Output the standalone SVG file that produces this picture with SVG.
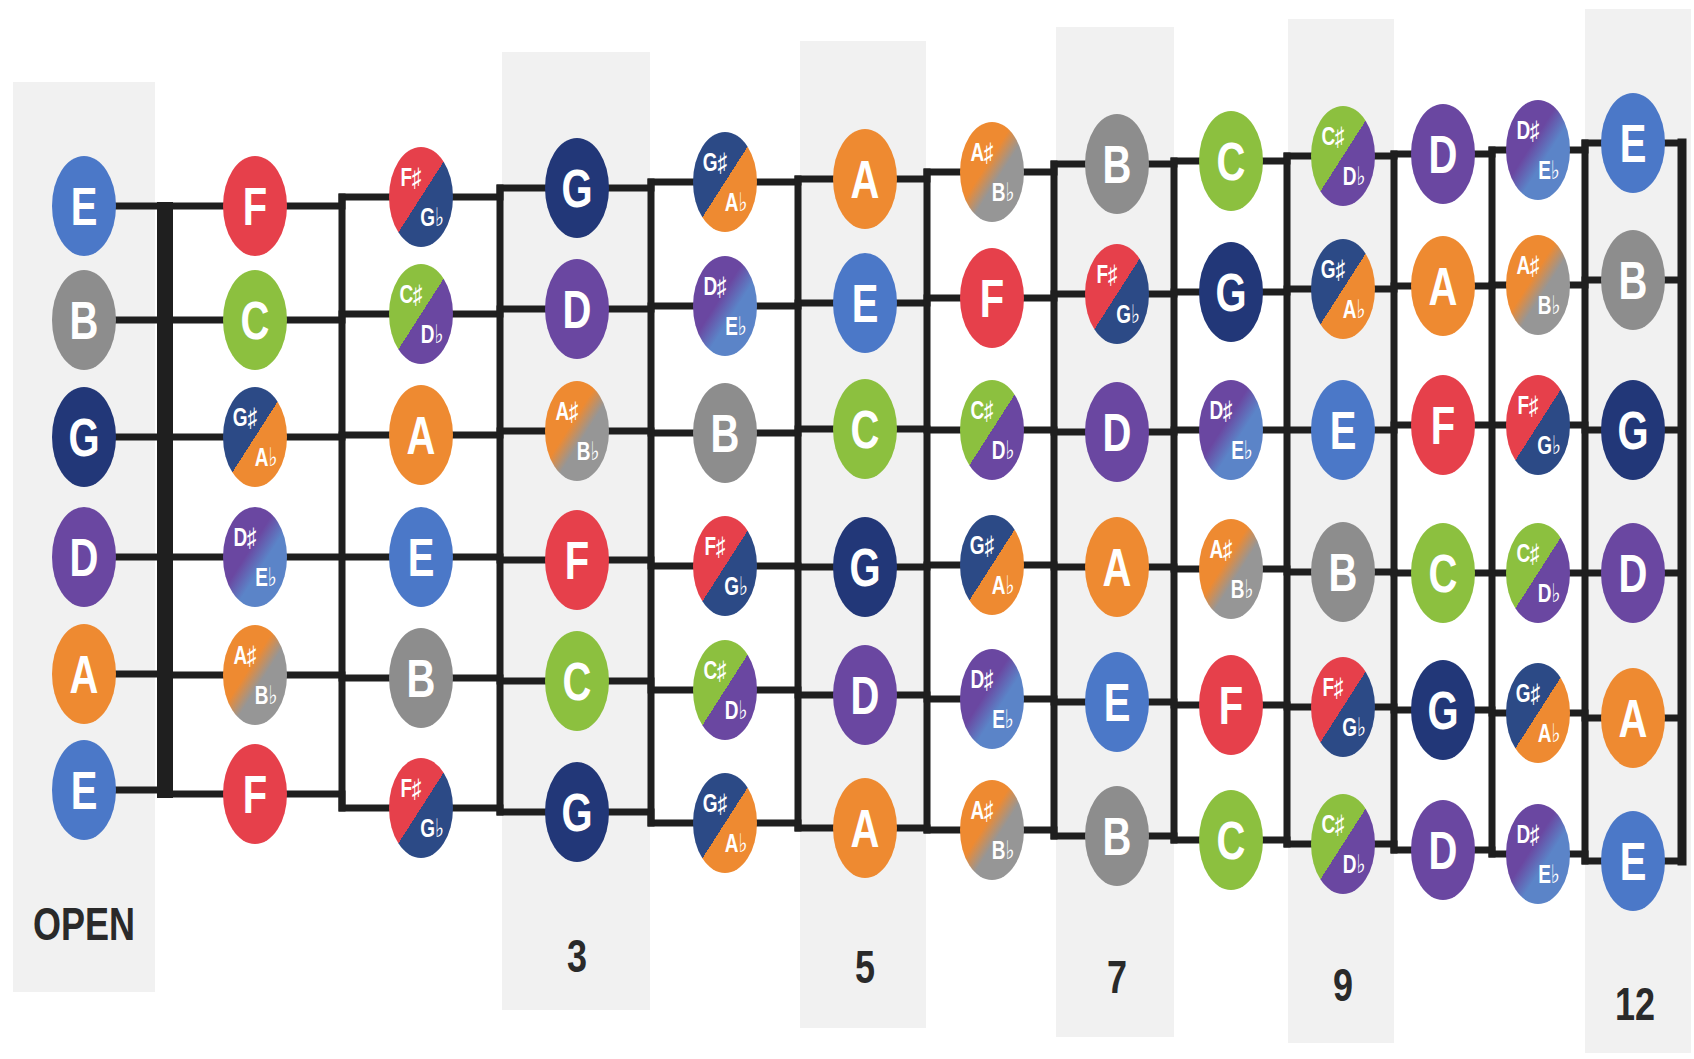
<svg xmlns="http://www.w3.org/2000/svg" width="1694" height="1059" viewBox="0 0 1694 1059">
<defs>
<style>
.band{fill:#f1f1f1}
.str{fill:none;stroke:#1f1f1f;stroke-width:7;stroke-linejoin:miter}
.fret{stroke:#1f1f1f;stroke-width:7;stroke-linecap:square}
.nut{stroke:#1f1f1f;stroke-width:16;stroke-linecap:butt}
.lbl{font-family:"Liberation Sans",Arial,sans-serif;font-weight:bold;font-size:36px;fill:#2a2a2a;text-anchor:middle}
.nt{font-family:"Liberation Sans",Arial,sans-serif;font-weight:bold;font-size:40px;fill:#ffffff;text-anchor:middle}
.st{font-family:"Liberation Sans","DejaVu Sans",sans-serif;font-weight:bold;font-size:19px;fill:#ffffff;text-anchor:middle}
.cE{fill:#4b78c8}.cF{fill:#e6404b}.cG{fill:#223778}.cA{fill:#ee8a31}.cB{fill:#8d8d8d}.cC{fill:#8cc03f}.cD{fill:#6a47a1}
.gFs{fill:url(#gFs)}.gGs{fill:url(#gGs)}.gAs{fill:url(#gAs)}.gCs{fill:url(#gCs)}.gDs{fill:url(#gDs)}
</style>
<linearGradient id="gFs" x1="0" y1="0" x2="1" y2="1"><stop offset="0.5" stop-color="#e6404b"/><stop offset="0.5" stop-color="#2c4a86"/></linearGradient>
<linearGradient id="gGs" x1="0" y1="0" x2="1" y2="1"><stop offset="0.5" stop-color="#2c4a86"/><stop offset="0.5" stop-color="#ee8a31"/></linearGradient>
<linearGradient id="gAs" x1="0" y1="0" x2="1" y2="1"><stop offset="0.42" stop-color="#ee8a31"/><stop offset="0.58" stop-color="#969696"/></linearGradient>
<linearGradient id="gCs" x1="0" y1="0" x2="1" y2="1"><stop offset="0.5" stop-color="#8cc03f"/><stop offset="0.5" stop-color="#6a47a1"/></linearGradient>
<linearGradient id="gDs" x1="0" y1="0" x2="1" y2="1"><stop offset="0.42" stop-color="#6a47a1"/><stop offset="0.6" stop-color="#5b84c8"/></linearGradient>
</defs>
<rect x="0" y="0" width="1694" height="1059" fill="#ffffff"/>
<g id="bands">
<rect class="band" x="13" y="82" width="142" height="910"/>
<rect class="band" x="502" y="52" width="148" height="958"/>
<rect class="band" x="800" y="41" width="126" height="987"/>
<rect class="band" x="1056" y="27" width="118" height="1010"/>
<rect class="band" x="1288" y="19" width="106" height="1024"/>
<rect class="band" x="1585" y="9" width="106" height="1044"/>
</g>
<g id="labels">
<text class="lbl" transform="translate(84,940) scale(1,1.3)">OPEN</text>
<text class="lbl" transform="translate(577,972) scale(1,1.3)">3</text>
<text class="lbl" transform="translate(865,983) scale(1,1.3)">5</text>
<text class="lbl" transform="translate(1117,993) scale(1,1.3)">7</text>
<text class="lbl" transform="translate(1343,1001) scale(1,1.3)">9</text>
<text class="lbl" transform="translate(1635,1020) scale(1,1.3)">12</text>
</g>
<g id="connectors">
<path class="str" d="M84,206 H165 V206 H342 V197 H500 V188 H651 V182 H798 V179 H927 V172 H1054 V164 H1174 V161 H1287 V156 H1394 V154 H1492 V150 H1585 V143 H1681"/>
<path class="str" d="M84,320 H165 V320 H342 V314 H500 V309 H651 V306 H798 V303 H927 V298 H1054 V294 H1174 V292 H1287 V289 H1394 V286 H1492 V285 H1585 V280 H1681"/>
<path class="str" d="M84,437 H165 V437 H342 V435 H500 V431 H651 V433 H798 V429 H927 V430 H1054 V432 H1174 V430 H1287 V430 H1394 V425 H1492 V425 H1585 V430 H1681"/>
<path class="str" d="M84,557 H165 V557 H342 V557 H500 V560 H651 V566 H798 V567 H927 V565 H1054 V567 H1174 V569 H1287 V572 H1394 V573 H1492 V573 H1585 V573 H1681"/>
<path class="str" d="M84,674 H165 V675 H342 V678 H500 V681 H651 V690 H798 V695 H927 V699 H1054 V702 H1174 V705 H1287 V707 H1394 V710 H1492 V713 H1585 V718 H1681"/>
<path class="str" d="M84,790 H165 V794 H342 V808 H500 V812 H651 V823 H798 V828 H927 V830 H1054 V836 H1174 V840 H1287 V844 H1394 V850 H1492 V854 H1585 V861 H1681"/>
<line class="nut" x1="165" y1="202" x2="165" y2="798"/>
<line class="fret" x1="342" y1="197" x2="342" y2="808"/>
<line class="fret" x1="500" y1="188" x2="500" y2="812"/>
<line class="fret" x1="651" y1="182" x2="651" y2="823"/>
<line class="fret" x1="798" y1="179" x2="798" y2="828"/>
<line class="fret" x1="927" y1="172" x2="927" y2="830"/>
<line class="fret" x1="1054" y1="164" x2="1054" y2="836"/>
<line class="fret" x1="1174" y1="161" x2="1174" y2="840"/>
<line class="fret" x1="1287" y1="156" x2="1287" y2="844"/>
<line class="fret" x1="1394" y1="154" x2="1394" y2="850"/>
<line class="fret" x1="1492" y1="150" x2="1492" y2="854"/>
<line class="fret" x1="1585" y1="143" x2="1585" y2="861"/>
<line class="fret" x1="1682" y1="143" x2="1682" y2="861" style="stroke-width:9"/>
</g>
<g id="notes">
<g id="c0s0"><ellipse class="cE" cx="84" cy="206" rx="32" ry="50"/><text class="nt" transform="translate(84,206) scale(1,1.35)" y="14">E</text></g>
<g id="c0s1"><ellipse class="cB" cx="84" cy="320" rx="32" ry="50"/><text class="nt" transform="translate(84,320) scale(1,1.35)" y="14">B</text></g>
<g id="c0s2"><ellipse class="cG" cx="84" cy="437" rx="32" ry="50"/><text class="nt" transform="translate(84,437) scale(1,1.35)" y="14">G</text></g>
<g id="c0s3"><ellipse class="cD" cx="84" cy="557" rx="32" ry="50"/><text class="nt" transform="translate(84,557) scale(1,1.35)" y="14">D</text></g>
<g id="c0s4"><ellipse class="cA" cx="84" cy="674" rx="32" ry="50"/><text class="nt" transform="translate(84,674) scale(1,1.35)" y="14">A</text></g>
<g id="c0s5"><ellipse class="cE" cx="84" cy="790" rx="32" ry="50"/><text class="nt" transform="translate(84,790) scale(1,1.35)" y="14">E</text></g>

<g id="c1s0"><ellipse class="cF" cx="255" cy="206" rx="32" ry="50"/><text class="nt" transform="translate(255,206) scale(1,1.35)" y="14">F</text></g>
<g id="c1s1"><ellipse class="cC" cx="255" cy="320" rx="32" ry="50"/><text class="nt" transform="translate(255,320) scale(1,1.35)" y="14">C</text></g>
<g id="c1s2"><ellipse class="gGs" cx="255" cy="437" rx="32" ry="50"/><text class="st" transform="translate(245,417) scale(1,1.35)" y="7">G♯</text><text class="st" transform="translate(266,457) scale(1,1.35)" y="7">A♭</text></g>
<g id="c1s3"><ellipse class="gDs" cx="255" cy="557" rx="32" ry="50"/><text class="st" transform="translate(245,537) scale(1,1.35)" y="7">D♯</text><text class="st" transform="translate(266,577) scale(1,1.35)" y="7">E♭</text></g>
<g id="c1s4"><ellipse class="gAs" cx="255" cy="675" rx="32" ry="50"/><text class="st" transform="translate(245,655) scale(1,1.35)" y="7">A♯</text><text class="st" transform="translate(266,695) scale(1,1.35)" y="7">B♭</text></g>
<g id="c1s5"><ellipse class="cF" cx="255" cy="794" rx="32" ry="50"/><text class="nt" transform="translate(255,794) scale(1,1.35)" y="14">F</text></g>

<g id="c2s0"><ellipse class="gFs" cx="421" cy="197" rx="32" ry="50"/><text class="st" transform="translate(411,177) scale(1,1.35)" y="7">F♯</text><text class="st" transform="translate(432,217) scale(1,1.35)" y="7">G♭</text></g>
<g id="c2s1"><ellipse class="gCs" cx="421" cy="314" rx="32" ry="50"/><text class="st" transform="translate(411,294) scale(1,1.35)" y="7">C♯</text><text class="st" transform="translate(432,334) scale(1,1.35)" y="7">D♭</text></g>
<g id="c2s2"><ellipse class="cA" cx="421" cy="435" rx="32" ry="50"/><text class="nt" transform="translate(421,435) scale(1,1.35)" y="14">A</text></g>
<g id="c2s3"><ellipse class="cE" cx="421" cy="557" rx="32" ry="50"/><text class="nt" transform="translate(421,557) scale(1,1.35)" y="14">E</text></g>
<g id="c2s4"><ellipse class="cB" cx="421" cy="678" rx="32" ry="50"/><text class="nt" transform="translate(421,678) scale(1,1.35)" y="14">B</text></g>
<g id="c2s5"><ellipse class="gFs" cx="421" cy="808" rx="32" ry="50"/><text class="st" transform="translate(411,788) scale(1,1.35)" y="7">F♯</text><text class="st" transform="translate(432,828) scale(1,1.35)" y="7">G♭</text></g>

<g id="c3s0"><ellipse class="cG" cx="577" cy="188" rx="32" ry="50"/><text class="nt" transform="translate(577,188) scale(1,1.35)" y="14">G</text></g>
<g id="c3s1"><ellipse class="cD" cx="577" cy="309" rx="32" ry="50"/><text class="nt" transform="translate(577,309) scale(1,1.35)" y="14">D</text></g>
<g id="c3s2"><ellipse class="gAs" cx="577" cy="431" rx="32" ry="50"/><text class="st" transform="translate(567,411) scale(1,1.35)" y="7">A♯</text><text class="st" transform="translate(588,451) scale(1,1.35)" y="7">B♭</text></g>
<g id="c3s3"><ellipse class="cF" cx="577" cy="560" rx="32" ry="50"/><text class="nt" transform="translate(577,560) scale(1,1.35)" y="14">F</text></g>
<g id="c3s4"><ellipse class="cC" cx="577" cy="681" rx="32" ry="50"/><text class="nt" transform="translate(577,681) scale(1,1.35)" y="14">C</text></g>
<g id="c3s5"><ellipse class="cG" cx="577" cy="812" rx="32" ry="50"/><text class="nt" transform="translate(577,812) scale(1,1.35)" y="14">G</text></g>

<g id="c4s0"><ellipse class="gGs" cx="725" cy="182" rx="32" ry="50"/><text class="st" transform="translate(715,162) scale(1,1.35)" y="7">G♯</text><text class="st" transform="translate(736,202) scale(1,1.35)" y="7">A♭</text></g>
<g id="c4s1"><ellipse class="gDs" cx="725" cy="306" rx="32" ry="50"/><text class="st" transform="translate(715,286) scale(1,1.35)" y="7">D♯</text><text class="st" transform="translate(736,326) scale(1,1.35)" y="7">E♭</text></g>
<g id="c4s2"><ellipse class="cB" cx="725" cy="433" rx="32" ry="50"/><text class="nt" transform="translate(725,433) scale(1,1.35)" y="14">B</text></g>
<g id="c4s3"><ellipse class="gFs" cx="725" cy="566" rx="32" ry="50"/><text class="st" transform="translate(715,546) scale(1,1.35)" y="7">F♯</text><text class="st" transform="translate(736,586) scale(1,1.35)" y="7">G♭</text></g>
<g id="c4s4"><ellipse class="gCs" cx="725" cy="690" rx="32" ry="50"/><text class="st" transform="translate(715,670) scale(1,1.35)" y="7">C♯</text><text class="st" transform="translate(736,710) scale(1,1.35)" y="7">D♭</text></g>
<g id="c4s5"><ellipse class="gGs" cx="725" cy="823" rx="32" ry="50"/><text class="st" transform="translate(715,803) scale(1,1.35)" y="7">G♯</text><text class="st" transform="translate(736,843) scale(1,1.35)" y="7">A♭</text></g>

<g id="c5s0"><ellipse class="cA" cx="865" cy="179" rx="32" ry="50"/><text class="nt" transform="translate(865,179) scale(1,1.35)" y="14">A</text></g>
<g id="c5s1"><ellipse class="cE" cx="865" cy="303" rx="32" ry="50"/><text class="nt" transform="translate(865,303) scale(1,1.35)" y="14">E</text></g>
<g id="c5s2"><ellipse class="cC" cx="865" cy="429" rx="32" ry="50"/><text class="nt" transform="translate(865,429) scale(1,1.35)" y="14">C</text></g>
<g id="c5s3"><ellipse class="cG" cx="865" cy="567" rx="32" ry="50"/><text class="nt" transform="translate(865,567) scale(1,1.35)" y="14">G</text></g>
<g id="c5s4"><ellipse class="cD" cx="865" cy="695" rx="32" ry="50"/><text class="nt" transform="translate(865,695) scale(1,1.35)" y="14">D</text></g>
<g id="c5s5"><ellipse class="cA" cx="865" cy="828" rx="32" ry="50"/><text class="nt" transform="translate(865,828) scale(1,1.35)" y="14">A</text></g>

<g id="c6s0"><ellipse class="gAs" cx="992" cy="172" rx="32" ry="50"/><text class="st" transform="translate(982,152) scale(1,1.35)" y="7">A♯</text><text class="st" transform="translate(1003,192) scale(1,1.35)" y="7">B♭</text></g>
<g id="c6s1"><ellipse class="cF" cx="992" cy="298" rx="32" ry="50"/><text class="nt" transform="translate(992,298) scale(1,1.35)" y="14">F</text></g>
<g id="c6s2"><ellipse class="gCs" cx="992" cy="430" rx="32" ry="50"/><text class="st" transform="translate(982,410) scale(1,1.35)" y="7">C♯</text><text class="st" transform="translate(1003,450) scale(1,1.35)" y="7">D♭</text></g>
<g id="c6s3"><ellipse class="gGs" cx="992" cy="565" rx="32" ry="50"/><text class="st" transform="translate(982,545) scale(1,1.35)" y="7">G♯</text><text class="st" transform="translate(1003,585) scale(1,1.35)" y="7">A♭</text></g>
<g id="c6s4"><ellipse class="gDs" cx="992" cy="699" rx="32" ry="50"/><text class="st" transform="translate(982,679) scale(1,1.35)" y="7">D♯</text><text class="st" transform="translate(1003,719) scale(1,1.35)" y="7">E♭</text></g>
<g id="c6s5"><ellipse class="gAs" cx="992" cy="830" rx="32" ry="50"/><text class="st" transform="translate(982,810) scale(1,1.35)" y="7">A♯</text><text class="st" transform="translate(1003,850) scale(1,1.35)" y="7">B♭</text></g>

<g id="c7s0"><ellipse class="cB" cx="1117" cy="164" rx="32" ry="50"/><text class="nt" transform="translate(1117,164) scale(1,1.35)" y="14">B</text></g>
<g id="c7s1"><ellipse class="gFs" cx="1117" cy="294" rx="32" ry="50"/><text class="st" transform="translate(1107,274) scale(1,1.35)" y="7">F♯</text><text class="st" transform="translate(1128,314) scale(1,1.35)" y="7">G♭</text></g>
<g id="c7s2"><ellipse class="cD" cx="1117" cy="432" rx="32" ry="50"/><text class="nt" transform="translate(1117,432) scale(1,1.35)" y="14">D</text></g>
<g id="c7s3"><ellipse class="cA" cx="1117" cy="567" rx="32" ry="50"/><text class="nt" transform="translate(1117,567) scale(1,1.35)" y="14">A</text></g>
<g id="c7s4"><ellipse class="cE" cx="1117" cy="702" rx="32" ry="50"/><text class="nt" transform="translate(1117,702) scale(1,1.35)" y="14">E</text></g>
<g id="c7s5"><ellipse class="cB" cx="1117" cy="836" rx="32" ry="50"/><text class="nt" transform="translate(1117,836) scale(1,1.35)" y="14">B</text></g>

<g id="c8s0"><ellipse class="cC" cx="1231" cy="161" rx="32" ry="50"/><text class="nt" transform="translate(1231,161) scale(1,1.35)" y="14">C</text></g>
<g id="c8s1"><ellipse class="cG" cx="1231" cy="292" rx="32" ry="50"/><text class="nt" transform="translate(1231,292) scale(1,1.35)" y="14">G</text></g>
<g id="c8s2"><ellipse class="gDs" cx="1231" cy="430" rx="32" ry="50"/><text class="st" transform="translate(1221,410) scale(1,1.35)" y="7">D♯</text><text class="st" transform="translate(1242,450) scale(1,1.35)" y="7">E♭</text></g>
<g id="c8s3"><ellipse class="gAs" cx="1231" cy="569" rx="32" ry="50"/><text class="st" transform="translate(1221,549) scale(1,1.35)" y="7">A♯</text><text class="st" transform="translate(1242,589) scale(1,1.35)" y="7">B♭</text></g>
<g id="c8s4"><ellipse class="cF" cx="1231" cy="705" rx="32" ry="50"/><text class="nt" transform="translate(1231,705) scale(1,1.35)" y="14">F</text></g>
<g id="c8s5"><ellipse class="cC" cx="1231" cy="840" rx="32" ry="50"/><text class="nt" transform="translate(1231,840) scale(1,1.35)" y="14">C</text></g>

<g id="c9s0"><ellipse class="gCs" cx="1343" cy="156" rx="32" ry="50"/><text class="st" transform="translate(1333,136) scale(1,1.35)" y="7">C♯</text><text class="st" transform="translate(1354,176) scale(1,1.35)" y="7">D♭</text></g>
<g id="c9s1"><ellipse class="gGs" cx="1343" cy="289" rx="32" ry="50"/><text class="st" transform="translate(1333,269) scale(1,1.35)" y="7">G♯</text><text class="st" transform="translate(1354,309) scale(1,1.35)" y="7">A♭</text></g>
<g id="c9s2"><ellipse class="cE" cx="1343" cy="430" rx="32" ry="50"/><text class="nt" transform="translate(1343,430) scale(1,1.35)" y="14">E</text></g>
<g id="c9s3"><ellipse class="cB" cx="1343" cy="572" rx="32" ry="50"/><text class="nt" transform="translate(1343,572) scale(1,1.35)" y="14">B</text></g>
<g id="c9s4"><ellipse class="gFs" cx="1343" cy="707" rx="32" ry="50"/><text class="st" transform="translate(1333,687) scale(1,1.35)" y="7">F♯</text><text class="st" transform="translate(1354,727) scale(1,1.35)" y="7">G♭</text></g>
<g id="c9s5"><ellipse class="gCs" cx="1343" cy="844" rx="32" ry="50"/><text class="st" transform="translate(1333,824) scale(1,1.35)" y="7">C♯</text><text class="st" transform="translate(1354,864) scale(1,1.35)" y="7">D♭</text></g>

<g id="c10s0"><ellipse class="cD" cx="1443" cy="154" rx="32" ry="50"/><text class="nt" transform="translate(1443,154) scale(1,1.35)" y="14">D</text></g>
<g id="c10s1"><ellipse class="cA" cx="1443" cy="286" rx="32" ry="50"/><text class="nt" transform="translate(1443,286) scale(1,1.35)" y="14">A</text></g>
<g id="c10s2"><ellipse class="cF" cx="1443" cy="425" rx="32" ry="50"/><text class="nt" transform="translate(1443,425) scale(1,1.35)" y="14">F</text></g>
<g id="c10s3"><ellipse class="cC" cx="1443" cy="573" rx="32" ry="50"/><text class="nt" transform="translate(1443,573) scale(1,1.35)" y="14">C</text></g>
<g id="c10s4"><ellipse class="cG" cx="1443" cy="710" rx="32" ry="50"/><text class="nt" transform="translate(1443,710) scale(1,1.35)" y="14">G</text></g>
<g id="c10s5"><ellipse class="cD" cx="1443" cy="850" rx="32" ry="50"/><text class="nt" transform="translate(1443,850) scale(1,1.35)" y="14">D</text></g>

<g id="c11s0"><ellipse class="gDs" cx="1538" cy="150" rx="32" ry="50"/><text class="st" transform="translate(1528,130) scale(1,1.35)" y="7">D♯</text><text class="st" transform="translate(1549,170) scale(1,1.35)" y="7">E♭</text></g>
<g id="c11s1"><ellipse class="gAs" cx="1538" cy="285" rx="32" ry="50"/><text class="st" transform="translate(1528,265) scale(1,1.35)" y="7">A♯</text><text class="st" transform="translate(1549,305) scale(1,1.35)" y="7">B♭</text></g>
<g id="c11s2"><ellipse class="gFs" cx="1538" cy="425" rx="32" ry="50"/><text class="st" transform="translate(1528,405) scale(1,1.35)" y="7">F♯</text><text class="st" transform="translate(1549,445) scale(1,1.35)" y="7">G♭</text></g>
<g id="c11s3"><ellipse class="gCs" cx="1538" cy="573" rx="32" ry="50"/><text class="st" transform="translate(1528,553) scale(1,1.35)" y="7">C♯</text><text class="st" transform="translate(1549,593) scale(1,1.35)" y="7">D♭</text></g>
<g id="c11s4"><ellipse class="gGs" cx="1538" cy="713" rx="32" ry="50"/><text class="st" transform="translate(1528,693) scale(1,1.35)" y="7">G♯</text><text class="st" transform="translate(1549,733) scale(1,1.35)" y="7">A♭</text></g>
<g id="c11s5"><ellipse class="gDs" cx="1538" cy="854" rx="32" ry="50"/><text class="st" transform="translate(1528,834) scale(1,1.35)" y="7">D♯</text><text class="st" transform="translate(1549,874) scale(1,1.35)" y="7">E♭</text></g>

<g id="c12s0"><ellipse class="cE" cx="1633" cy="143" rx="32" ry="50"/><text class="nt" transform="translate(1633,143) scale(1,1.35)" y="14">E</text></g>
<g id="c12s1"><ellipse class="cB" cx="1633" cy="280" rx="32" ry="50"/><text class="nt" transform="translate(1633,280) scale(1,1.35)" y="14">B</text></g>
<g id="c12s2"><ellipse class="cG" cx="1633" cy="430" rx="32" ry="50"/><text class="nt" transform="translate(1633,430) scale(1,1.35)" y="14">G</text></g>
<g id="c12s3"><ellipse class="cD" cx="1633" cy="573" rx="32" ry="50"/><text class="nt" transform="translate(1633,573) scale(1,1.35)" y="14">D</text></g>
<g id="c12s4"><ellipse class="cA" cx="1633" cy="718" rx="32" ry="50"/><text class="nt" transform="translate(1633,718) scale(1,1.35)" y="14">A</text></g>
<g id="c12s5"><ellipse class="cE" cx="1633" cy="861" rx="32" ry="50"/><text class="nt" transform="translate(1633,861) scale(1,1.35)" y="14">E</text></g>
</g>
</svg>
